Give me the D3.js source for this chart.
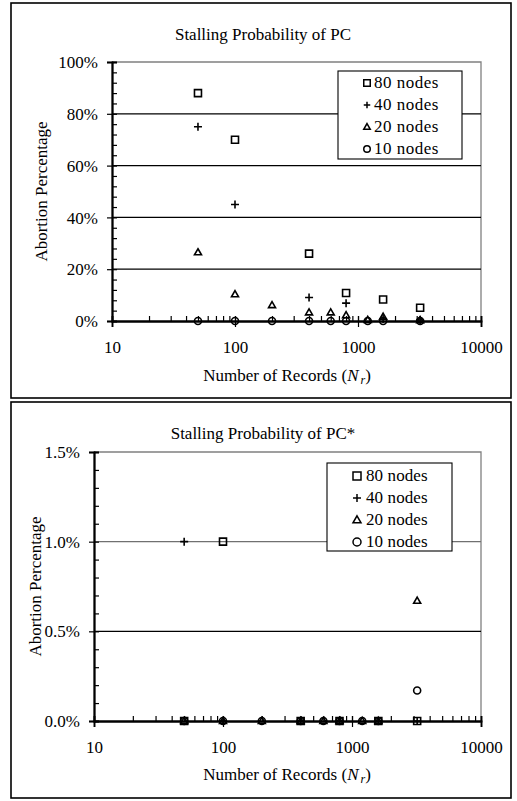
<!DOCTYPE html>
<html><head><meta charset="utf-8">
<script src="https://cdn.jsdelivr.net/npm/d3@7"></script>
<style>
html,body{margin:0;padding:0;background:#fff;}
svg{display:block;font-family:"Liberation Serif","Times New Roman",serif;}
</style></head>
<body>
<svg id="c" width="517" height="801"></svg>
<script>
// ---- Data ----
const seriesNames = ["80 nodes", "40 nodes", "20 nodes", "10 nodes"];
const recordsBig = [50, 100, 400, 800, 1600, 3200];            // N_r for 80 / 40 nodes
const recordsAll = [50, 100, 200, 400, 600, 800, 1200, 1600, 3200]; // N_r for 20 / 10 nodes
const xTickLabels = ["10", "100", "1000", "10000"];

// Chart 1: Stalling Probability of PC (percent)
const pc80 = [88, 70, 26, 10.8, 8.3, 5.1];
const pc40 = [75, 45, 9.1, 6.9, 0.8, 0.4];
const pc20 = [26.5, 10.3, 6.1, 3.3, 3.3, 2.2, 0.4, 1.6, 0.3];
const pc10 = [0, 0, 0, 0, 0, 0, 0, 0, 0];
const pcYTicks = [0, 20, 40, 60, 80, 100];

// Chart 2: Stalling Probability of PC* (percent)
const pcs80 = [0, 1.0, 0, 0, 0, 0];
const pcs40 = [1.0, 0, 0, 0, 0, 0];
const pcs20 = [0, 0, 0, 0, 0, 0, 0, 0, 0.67];
const pcs10 = [0, 0, 0, 0, 0, 0, 0, 0, 0.17];
const pcsYTicks = [0, 0.5, 1.0, 1.5];

const FS = 17;
const svg = d3.select("#c");
const symbolTypes = ["square", "plus", "triangle", "circle"];

function markerPath(type, s) {
  const h = s / 2;
  if (type === "square") return `M${-h},${-h}H${h}V${h}H${-h}Z`;
  if (type === "plus") return `M${-h},0H${h}M0,${-h}V${h}`;
  if (type === "triangle") { const t = s * 0.866; return `M0,${-t*0.6}L${h},${t*0.4}L${-h},${t*0.4}Z`; }
  if (type === "circle") return d3.arc()({innerRadius:0, outerRadius:h, startAngle:0, endAngle:2*Math.PI});
}

function drawChart(cfg) {
  const g = svg.append("g");
  // outer frame
  g.append("rect").attr("x", cfg.box.x).attr("y", cfg.box.y).attr("width", cfg.box.w).attr("height", cfg.box.h)
    .attr("fill", "#fff").attr("stroke", "#000").attr("stroke-width", 1.6);

  const x = d3.scaleLog().domain([10, 10000]).range([cfg.plot.left, cfg.plot.right]);
  const y = d3.scaleLinear().domain([0, cfg.yMax]).range([cfg.plot.bottom, cfg.plot.top]);

  // plot border (gray top / right)
  g.append("path").attr("d", `M${x(10)},${y(cfg.yMax)}H${x(10000)}V${y(0)}`)
    .attr("fill", "none").attr("stroke", "#808080").attr("stroke-width", 1.3);

  // gridlines
  g.selectAll(".grid").data(cfg.yTicks.filter(v => v > 0 && v < cfg.yMax)).join("line")
    .attr("x1", x(10)).attr("x2", x(10000)).attr("y1", d => y(d)).attr("y2", d => y(d))
    .attr("stroke", d => cfg.gridColor(d)).attr("stroke-width", 1.2);

  // title
  g.append("text").attr("x", 263).attr("y", cfg.titleY).attr("text-anchor", "middle")
    .attr("font-size", FS).text(cfg.title);

  // minor y ticks (inside)
  const yMinor = d3.range(0, cfg.yMax + cfg.yMinorStep / 2, cfg.yMinorStep);
  const ayMinor = g.append("g").attr("transform", `translate(${x(10)},0)`)
    .call(d3.axisLeft(y).tickValues(yMinor).tickSize(-5).tickFormat(""));
  // major y ticks (outside) with labels
  const ay = g.append("g").attr("transform", `translate(${x(10)},0)`)
    .call(d3.axisLeft(y).tickValues(cfg.yTicks).tickSize(5).tickPadding(9).tickFormat(cfg.yFormat));
  // minor x ticks (inside)
  const xMinor = [];
  [10, 100, 1000].forEach(b => { for (let k = 1; k <= 10; k++) xMinor.push(b * k); });
  const axMinor = g.append("g").attr("transform", `translate(0,${y(0)})`)
    .call(d3.axisBottom(x).tickValues(xMinor).tickSize(-5).tickFormat(""));
  // major x ticks (cross down) with labels
  const ax = g.append("g").attr("transform", `translate(0,${y(0)})`)
    .call(d3.axisBottom(x).tickValues([10, 100, 1000, 10000]).tickSize(6).tickPadding(16)
      .tickFormat((d, i) => xTickLabels[i]));

  [ayMinor, ay, axMinor, ax].forEach(a => {
    a.attr("font-family", null).attr("font-size", null);
    a.selectAll("line").attr("stroke", "#000").attr("stroke-width", 1.2);
    a.select(".domain").attr("stroke", "#000").attr("stroke-width", 1.8);
    a.selectAll("text").attr("fill", "#000").attr("font-size", FS);
  });
  ax.selectAll("text").attr("dy", null).attr("y", cfg.xLabelY - y(0));
  ay.selectAll("text").attr("dy", "0.33em");

  // axis titles
  const xt = g.append("text").attr("x", 287).attr("y", cfg.xTitleY).attr("text-anchor", "middle").attr("font-size", FS);
  xt.append("tspan").text("Number of Records (");
  xt.append("tspan").attr("font-style", "italic").text("N");
  xt.append("tspan").attr("font-style", "italic").attr("font-size", 12).attr("dy", 3).attr("dx", 2).text("r");
  xt.append("tspan").attr("dy", -3).text(")");

  g.append("text").attr("transform", `translate(${cfg.yTitleX},${(cfg.plot.top + cfg.plot.bottom) / 2}) rotate(-90)`)
    .attr("text-anchor", "middle").attr("font-size", FS).text("Abortion Percentage");

  // data
  const series = [
    {xs: recordsBig, vals: cfg.data[0]},
    {xs: recordsBig, vals: cfg.data[1]},
    {xs: recordsAll, vals: cfg.data[2]},
    {xs: recordsAll, vals: cfg.data[3]},
  ];
  series.forEach((s, si) => {
    const pts = s.xs.map((n, i) => [n, s.vals[i]]);
    g.append("g").selectAll("path").data(pts).join("path")
      .attr("transform", d => `translate(${x(d[0])},${y(d[1])})`)
      .attr("d", markerPath(symbolTypes[si], symbolTypes[si] === "plus" ? 8 : 7))
      .attr("fill", "none").attr("stroke", "#000").attr("stroke-width", 1.6);
  });

  // legend
  const L = cfg.legend;
  const lg = g.append("g");
  lg.append("rect").attr("x", L.x).attr("y", L.y).attr("width", L.w).attr("height", L.h)
    .attr("fill", "#fff").attr("stroke", "#000").attr("stroke-width", 1.1);
  seriesNames.forEach((name, i) => {
    const cy = L.y + L.first + i * 22;
    lg.append("path").attr("transform", `translate(${L.symX},${cy - 5})`)
      .attr("d", markerPath(symbolTypes[i], L.symSize))
      .attr("fill", "none").attr("stroke", "#000").attr("stroke-width", 1.5);
    lg.append("text").attr("x", L.textX).attr("y", cy).attr("font-size", FS)
      .attr("letter-spacing", L.ls).text(name);
  });
}

drawChart({
  box: {x: 11, y: 3, w: 500, h: 395},
  plot: {left: 112, right: 481, top: 62, bottom: 321},
  yMax: 100, yTicks: pcYTicks, yMinorStep: 4,
  yFormat: d => d + "%",
  gridColor: d => "#000",
  title: "Stalling Probability of PC", titleY: 40,
  xLabelY: 353, xTitleY: 381, yTitleX: 47,
  data: [pc80, pc40, pc20, pc10],
  legend: {x: 338, y: 71, w: 124, h: 88, first: 17, symX: 367, symSize: 6.5, textX: 374, ls: 0.5}
});

drawChart({
  box: {x: 11, y: 402, w: 500, h: 396},
  plot: {left: 94, right: 481, top: 452, bottom: 721},
  yMax: 1.5, yTicks: pcsYTicks, yMinorStep: 0.1,
  yFormat: d => d.toFixed(1) + "%",
  gridColor: d => d === 1.0 ? "#707070" : "#000",
  title: "Stalling Probability of PC*", titleY: 439,
  xLabelY: 753, xTitleY: 780, yTitleX: 41,
  data: [pcs80, pcs40, pcs20, pcs10],
  legend: {x: 327, y: 463, w: 125, h: 88, first: 18, symX: 357, symSize: 8, textX: 366, ls: 0.1}
});
</script>
</body></html>
